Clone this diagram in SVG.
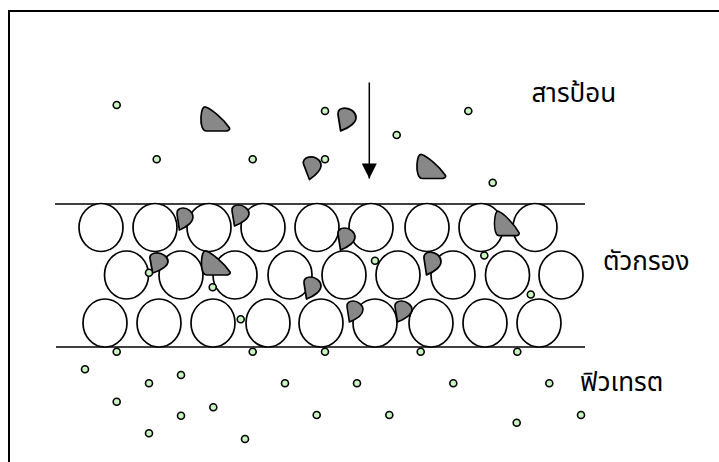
<svg xmlns="http://www.w3.org/2000/svg" width="719" height="462" viewBox="0 0 719 462">
<style>
.frame{fill:none;stroke:#000;stroke-width:2}
.bed{stroke:#000;stroke-width:1.6;fill:none}
.grain{fill:#fff;stroke:#000;stroke-width:1.7}
.solid{fill:#888;stroke:#000;stroke-width:1.7;stroke-linejoin:round}
.fine{fill:#c8f5c0;stroke:#000;stroke-width:1.6}
.lbl{font-family:"Noto Sans Thai","Tahoma","Noto Sans","DejaVu Sans",sans-serif;font-size:26px;fill:#000}
.arrow{stroke:#000;stroke-width:1.5;fill:none}
</style>
<defs>
<path id="pt" d="M -10,-12 C -4,-10 8,0 14,9 C 15,11 12,12 10,12 L -9,12 C -13,12 -15,6 -14.5,-2 C -14,-8 -13,-12.5 -10,-12 Z"/>
<path id="tear" d="M -6,11 L -8.5,-5 C -9,-9 -6,-11 -2,-11 C 3,-11 8.5,-7 8.5,-2 C 8.5,3 2,8 -6,11 Z"/>
<circle id="dot" r="3.5"/>
<marker id="ah" viewBox="0 0 10 10" refX="10" refY="5" markerWidth="16" markerHeight="15" markerUnits="userSpaceOnUse" orient="auto">
<path d="M0,0 L10,5 L0,10 Z" fill="#000"/>
</marker>
</defs>
<rect width="719" height="462" fill="#fff"/>
<path class="frame" d="M9,470 L9,11 L730,11"/>

<g id="filter-bed">
<line class="bed" x1="55" y1="204" x2="585" y2="204"/>
<line class="bed" x1="56" y1="347" x2="585" y2="347"/>
<g id="row1">
<ellipse class="grain" cx="101" cy="227.5" rx="22" ry="24"/>
<ellipse class="grain" cx="155" cy="227.5" rx="22" ry="24"/>
<ellipse class="grain" cx="209" cy="227.5" rx="22" ry="24"/>
<ellipse class="grain" cx="263" cy="227.5" rx="22" ry="24"/>
<ellipse class="grain" cx="317" cy="227.5" rx="22" ry="24"/>
<ellipse class="grain" cx="371" cy="227.5" rx="22" ry="24"/>
<ellipse class="grain" cx="427" cy="227.5" rx="22" ry="24"/>
<ellipse class="grain" cx="481" cy="227.5" rx="22" ry="24"/>
<ellipse class="grain" cx="535" cy="227.5" rx="22" ry="24"/>
</g>
<g id="row2">
<ellipse class="grain" cx="126.5" cy="275" rx="22" ry="24"/>
<ellipse class="grain" cx="181" cy="275" rx="22" ry="24"/>
<ellipse class="grain" cx="235" cy="275" rx="22" ry="24"/>
<ellipse class="grain" cx="290" cy="275" rx="22" ry="24"/>
<ellipse class="grain" cx="344" cy="275" rx="22" ry="24"/>
<ellipse class="grain" cx="398" cy="275" rx="22" ry="24"/>
<ellipse class="grain" cx="453" cy="275" rx="22" ry="24"/>
<ellipse class="grain" cx="507.5" cy="275" rx="22" ry="24"/>
<ellipse class="grain" cx="561" cy="275" rx="22" ry="24"/>
</g>
<g id="row3">
<ellipse class="grain" cx="105" cy="323" rx="22" ry="24"/>
<ellipse class="grain" cx="159" cy="323" rx="22" ry="24"/>
<ellipse class="grain" cx="213" cy="323" rx="22" ry="24"/>
<ellipse class="grain" cx="268" cy="323" rx="22" ry="24"/>
<ellipse class="grain" cx="321" cy="323" rx="22" ry="24"/>
<ellipse class="grain" cx="375" cy="323" rx="22" ry="24"/>
<ellipse class="grain" cx="431" cy="323" rx="22" ry="24"/>
<ellipse class="grain" cx="485" cy="323" rx="22" ry="24"/>
<ellipse class="grain" cx="539" cy="323" rx="22" ry="24"/>
</g>
</g>

<g id="solids">
<use href="#pt" class="solid" transform="translate(215.5,119)"/>
<use href="#pt" class="solid" transform="translate(431.5,166.5)"/>
<use href="#pt" class="solid" transform="translate(507,223.5) scale(0.86,1.02)"/>
<use href="#pt" class="solid" transform="translate(216,263)"/>
<use href="#tear" class="solid" transform="translate(347,119.5) scale(1.06,1.04)"/>
<use href="#tear" class="solid" transform="translate(313,167.5) rotate(-12) scale(1.0,1.0)"/>
<use href="#tear" class="solid" transform="translate(185,219) scale(0.94,1.0)"/>
<use href="#tear" class="solid" transform="translate(240.5,215.5) scale(1.0,0.95)"/>
<use href="#tear" class="solid" transform="translate(346.5,239) scale(1.0,1.0)"/>
<use href="#tear" class="solid" transform="translate(159,263) scale(1.06,0.92)"/>
<use href="#tear" class="solid" transform="translate(312.5,288) scale(1.0,1.0)"/>
<use href="#tear" class="solid" transform="translate(432.5,263.5) scale(1.0,1.04)"/>
<use href="#tear" class="solid" transform="translate(355,311.5) scale(0.94,0.95)"/>
<use href="#tear" class="solid" transform="translate(403.5,311.5) scale(1.0,0.95)"/>
</g>

<g id="fines">
<use href="#dot" class="fine" x="116.7" y="105"/>
<use href="#dot" class="fine" x="156.7" y="159.3"/>
<use href="#dot" class="fine" x="252.7" y="159.3"/>
<use href="#dot" class="fine" x="325" y="111"/>
<use href="#dot" class="fine" x="325" y="159.3"/>
<use href="#dot" class="fine" x="468.3" y="111"/>
<use href="#dot" class="fine" x="396.7" y="135"/>
<use href="#dot" class="fine" x="492.7" y="182.7"/>
<use href="#dot" class="fine" x="149" y="272.7"/>
<use href="#dot" class="fine" x="212.7" y="287.3"/>
<use href="#dot" class="fine" x="240.7" y="319.3"/>
<use href="#dot" class="fine" x="375" y="260.7"/>
<use href="#dot" class="fine" x="484.3" y="255.5"/>
<use href="#dot" class="fine" x="530.8" y="294.5"/>
<use href="#dot" class="fine" x="116.7" y="351.7"/>
<use href="#dot" class="fine" x="252.7" y="351.7"/>
<use href="#dot" class="fine" x="325" y="351.7"/>
<use href="#dot" class="fine" x="420.7" y="351.7"/>
<use href="#dot" class="fine" x="517.3" y="351.7"/>
<use href="#dot" class="fine" x="85" y="369.3"/>
<use href="#dot" class="fine" x="149" y="383.3"/>
<use href="#dot" class="fine" x="181" y="375"/>
<use href="#dot" class="fine" x="285" y="383.3"/>
<use href="#dot" class="fine" x="357" y="383.3"/>
<use href="#dot" class="fine" x="453.3" y="383.3"/>
<use href="#dot" class="fine" x="549.3" y="383.3"/>
<use href="#dot" class="fine" x="116.7" y="401.7"/>
<use href="#dot" class="fine" x="181" y="415.7"/>
<use href="#dot" class="fine" x="213.3" y="407.3"/>
<use href="#dot" class="fine" x="316.7" y="415"/>
<use href="#dot" class="fine" x="389.3" y="415"/>
<use href="#dot" class="fine" x="581" y="415"/>
<use href="#dot" class="fine" x="516.7" y="422.7"/>
<use href="#dot" class="fine" x="149" y="433.3"/>
<use href="#dot" class="fine" x="245" y="439"/>
</g>

<g id="connectors">
<line class="arrow" x1="369.3" y1="82.5" x2="369.3" y2="178.5" marker-end="url(#ah)"/>
</g>

<g id="labels">
<text class="lbl" x="531.5" y="101.5">สารป้อน</text>
<text class="lbl" x="603" y="270">ตัวกรอง</text>
<text class="lbl" x="580" y="390.5">ฟิวเทรต</text>
</g>
</svg>
